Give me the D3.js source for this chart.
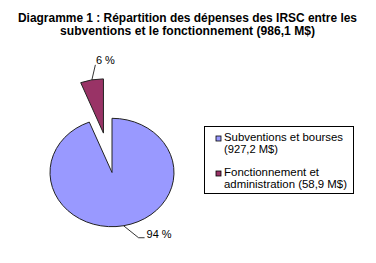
<!DOCTYPE html>
<html>
<head>
<meta charset="utf-8">
<script src="https://cdn.jsdelivr.net/npm/d3@7"></script>
<style>
  html, body { margin: 0; padding: 0; background: #fff; }
  svg { display: block; font-family: "Liberation Sans", Arial, sans-serif; }
</style>
</head>
<body>
<div id="chart"></div>
<script>
// données
const titleLines = [
  "Diagramme 1 : Répartition des dépenses des IRSC entre les",
  "subventions et le fonctionnement (986,1 M$)"
];
const categories = ["Subventions et bourses", "Fonctionnement et administration"];
const amounts = [927.2, 58.9];
const legendLines = [
  ["Subventions et bourses", "(927,2 M$)"],
  ["Fonctionnement et", "administration (58,9 M$)"]
];
const colors = ["#9999FF", "#993366"];
const exploded = [0, 0.74];

const width = 376, height = 263;
const cx = 112, cy = 172.5, rx = 62, ry = 54.2;

const svg = d3.select("#chart").append("svg")
  .attr("width", width)
  .attr("height", height);

svg.append("rect").attr("width", width).attr("height", height).attr("fill", "#fff");

// titre
const titleWidths = [339, 255];
svg.append("g").selectAll("text")
  .data(titleLines)
  .enter().append("text")
  .attr("x", 187.5)
  .attr("y", (d, i) => 22 + i * 13)
  .attr("text-anchor", "middle")
  .attr("font-size", 12)
  .attr("font-weight", "bold")
  .attr("fill", "#000")
  .attr("textLength", (d, i) => titleWidths[i])
  .attr("lengthAdjust", "spacingAndGlyphs")
  .text(d => d);

// secteurs (ellipse : rayon unitaire puis mise à l'échelle)
const pie = d3.pie().sort(null).value(d => d);
const arcs = pie(amounts);
const R = 100;
const arc = d3.arc().innerRadius(0).outerRadius(R);
const sx = rx / R, sy = ry / R;

// point sur l'ellipse pour un angle (0 = haut, sens horaire)
function ellPoint(a, k, off) {
  return [cx + (Math.sin(a) * k + off[0]) * rx, cy + (-Math.cos(a) * k + off[1]) * ry];
}

const slices = svg.append("g").attr("class", "slices");
arcs.forEach((d, i) => {
  const mid = (d.startAngle + d.endAngle) / 2;
  const off = [Math.sin(mid) * exploded[i], -Math.cos(mid) * exploded[i]];
  d.off = off;
  d.mid = mid;
  slices.append("path")
    .attr("d", arc(d))
    .attr("transform", `translate(${cx + off[0] * rx},${cy + off[1] * ry}) scale(${sx},${sy})`)
    .attr("fill", colors[i])
    .attr("stroke", "#222")
    .attr("stroke-width", 1)
    .attr("vector-effect", "non-scaling-stroke");
});

// étiquettes de pourcentage
const total = d3.sum(amounts);
const labels = svg.append("g").attr("font-size", 11).attr("fill", "#000");
arcs.forEach((d, i) => {
  const pct = Math.round(d.value / total * 100) + " %";
  const p0 = ellPoint(d.mid, 1, d.off);
  let pts, tx, ty;
  if (Math.cos(d.mid) > 0) {
    // étiquette au-dessus
    pts = [p0, [p0[0] + 3.5, p0[1] - 15]];
    tx = p0[0] + 4; ty = p0[1] - 15.5;
  } else {
    pts = [p0, [p0[0] + 15, p0[1] + 12], [p0[0] + 21, p0[1] + 12]];
    tx = p0[0] + 23; ty = p0[1] + 12.5;
  }
  labels.append("path")
    .attr("d", d3.line()(pts))
    .attr("fill", "none")
    .attr("stroke", "#000")
    .attr("stroke-width", 0.8);
  labels.append("text")
    .attr("x", tx)
    .attr("y", ty)
    .text(pct);
});

// légende
const legend = svg.append("g");
legend.append("rect")
  .attr("x", 204.5).attr("y", 126.5)
  .attr("width", 149).attr("height", 67)
  .attr("fill", "#fff")
  .attr("stroke", "#000")
  .attr("stroke-width", 1);

const lineWidths = [[119, 54], [95, 123]];
legendLines.forEach((lines, i) => {
  const y0 = 141 + i * 35;
  legend.append("rect")
    .attr("x", 216).attr("y", y0 - 5)
    .attr("width", 5).attr("height", 5)
    .attr("fill", colors[i])
    .attr("stroke", "#000")
    .attr("stroke-width", 0.8);
  lines.forEach((t, j) => {
    legend.append("text")
      .attr("x", 224)
      .attr("y", y0 + j * 11.5)
      .attr("font-size", 10.5)
      .attr("textLength", lineWidths[i][j])
      .attr("lengthAdjust", "spacingAndGlyphs")
      .text(t);
  });
});
</script>
</body>
</html>
